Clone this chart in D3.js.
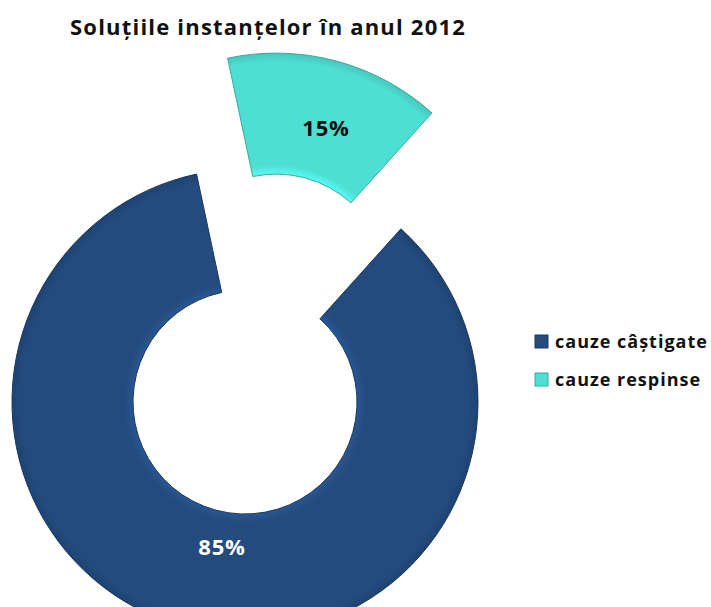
<!DOCTYPE html>
<html>
<head>
<meta charset="utf-8">
<script src="https://cdn.jsdelivr.net/npm/d3@7"></script>
<style>
  body { margin: 0; background: #fff; }
  svg { display: block; }
</style>
</head>
<body>
<div id="chart_div"></div>
<script>

/*
 * Data
 */
var gvTitle = 'Soluțiile instanțelor în anul 2012';
var gvCategories = ['cauze respinse', 'cauze câștigate'];
var gvValues = [15, 85];
var gvColours = ['#4edfd3', '#234b7e'];
var gvLabelColours = ['#111', '#fff'];
var gvLegendOrder = ['cauze câștigate', 'cauze respinse'];

/*
 * Build the chart
 */
function buildChart() {

  var width = 711, height = 607;
  var cx = 245, cy = 402;
  var rOuter = 233, rInner = 112;
  var explode = 120;
  var startDeg = -12;

  var svg = d3.select('#chart_div')
    .append('svg')
    .attr('width', width)
    .attr('height', height);

  var defs = svg.append('defs');
  gvColours.forEach(function(c, i) {
    var grad = defs.append('radialGradient')
      .attr('id', 'grad' + i)
      .attr('gradientUnits', 'userSpaceOnUse')
      .attr('cx', 0).attr('cy', 0).attr('r', rOuter);
    grad.append('stop').attr('offset', '0.47').attr('stop-color', d3.color(c).brighter(0.5));
    grad.append('stop').attr('offset', '0.52').attr('stop-color', c);
    grad.append('stop').attr('offset', '0.96').attr('stop-color', c);
    grad.append('stop').attr('offset', '1').attr('stop-color', d3.color(c).darker(0.3));
  });

  // title
  svg.append('text')
    .attr('x', 268)
    .attr('y', 35)
    .attr('text-anchor', 'middle')
    .style('font-family', '"Open Sans", sans-serif')
    .style('font-weight', 'bold')
    .style('font-size', '22px')
    .style('letter-spacing', '1.2px')
    .style('fill', '#111')
    .text(gvTitle);

  var pie = d3.pie()
    .sort(null)
    .startAngle(startDeg * Math.PI / 180)
    .endAngle(startDeg * Math.PI / 180 + 2 * Math.PI);

  var arc = d3.arc().innerRadius(rInner).outerRadius(rOuter);
  var labelArc = d3.arc().innerRadius(160).outerRadius(172);

  var arcs = pie(gvValues);

  var g = svg.append('g')
    .attr('transform', 'translate(' + cx + ',' + cy + ')');

  var slices = g.selectAll('.slice')
    .data(arcs)
    .enter()
    .append('g')
    .attr('class', 'slice')
    .attr('transform', function(d, i) {
      if (i !== 0) return null;
      var mid = (d.startAngle + d.endAngle) / 2;
      return 'translate(' + (Math.sin(mid) * explode) + ',' + (-Math.cos(mid) * explode) + ')';
    });

  slices.append('path')
    .attr('d', arc)
    .attr('fill', function(d, i) { return 'url(#grad' + i + ')'; })
    .attr('stroke', function(d, i) { return d3.color(gvColours[i]).darker(0.8); })
    .attr('stroke-width', 1);

  slices.append('text')
    .attr('transform', function(d, i) {
      var c = labelArc.centroid(d);
      // nudge labels to where the original sits
      if (i === 0) { c[0] += 7; c[1] += 3; } else { c[0] += 20; c[1] -= 15; }
      return 'translate(' + c + ')';
    })
    .attr('text-anchor', 'middle')
    .attr('dy', '0.35em')
    .style('font-family', '"Open Sans", sans-serif')
    .style('font-weight', 'bold')
    .style('font-size', '22px')
    .style('letter-spacing', '0.8px')
    .style('fill', function(d, i) { return gvLabelColours[i]; })
    .text(function(d) { return d.value + '%'; });

  // legend
  var legend = svg.append('g').attr('transform', 'translate(535,335)');
  var item = legend.selectAll('.item')
    .data(gvLegendOrder)
    .enter()
    .append('g')
    .attr('transform', function(d, i) { return 'translate(0,' + (i * 38) + ')'; });

  item.append('rect')
    .attr('width', 13)
    .attr('height', 13)
    .attr('fill', function(d) { return gvColours[gvCategories.indexOf(d)]; })
    .attr('stroke', function(d) { return d3.color(gvColours[gvCategories.indexOf(d)]).darker(0.8); });

  item.append('text')
    .attr('x', 20)
    .attr('y', 7)
    .attr('dy', '0.35em')
    .style('font-family', '"Open Sans", sans-serif')
    .style('font-weight', 'bold')
    .style('font-size', '18px')
    .style('letter-spacing', '1px')
    .style('fill', '#111')
    .text(function(d) { return d; });
}

buildChart();
</script>
</body>
</html>
